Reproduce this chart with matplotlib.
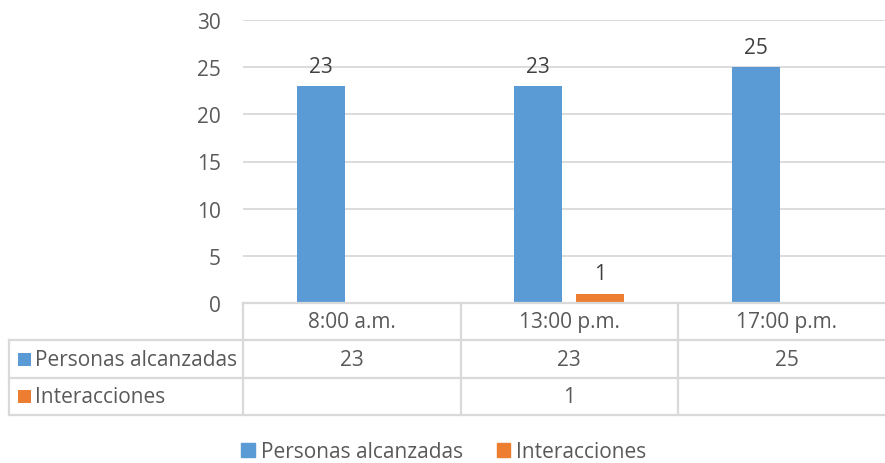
import matplotlib.pyplot as plt
import numpy as np
from matplotlib.patches import Patch, Rectangle

categories = ["8:00 a.m.", "13:00 p.m.", "17:00 p.m."]
series_names = ["Personas alcanzadas", "Interacciones"]
personas = [23, 23, 25]
interacciones = [None, 1, None]
colors = ["#5B9BD5", "#ED7D31"]

plt.rcParams['font.family'] = ['Open Sans', 'DejaVu Sans']
txt = "#595959"
grid = "#D9D9D9"
fs = 15

W, H = 885, 464
fig = plt.figure(figsize=(W / 100, H / 100), dpi=100)

# pixel helpers (top-left origin)
def fx(x):
    return x / W

def fy(y):
    return 1 - y / H

left, right, top, base = 243, 895.5, 21, 304
ax = fig.add_axes([fx(left), fy(base), fx(right - left), (base - top) / H])
x = np.arange(len(categories))
bw, off = 0.222, 0.143

vals_p = np.array(personas, dtype=float)
vals_i = np.array([np.nan if v is None else v for v in interacciones])
ax.bar(x - off, vals_p, bw, color=colors[0], zorder=3)
ax.bar(x + off, np.nan_to_num(vals_i), bw, color=colors[1], zorder=3)
for xi, v in zip(x, vals_p):
    ax.text(xi - off, v + 1.0, f"{v:g}", ha="center", va="bottom", fontsize=fs, color="#404040")
for xi, v in zip(x, vals_i):
    if not np.isnan(v):
        ax.text(xi + off, v + 1.0, f"{v:g}", ha="center", va="bottom", fontsize=fs, color="#404040")

ax.set_xlim(-0.5, 2.5)
ax.set_ylim(0, 30)
ax.set_yticks(range(0, 31, 5))
ax.yaxis.grid(True, color=grid, lw=1.3, zorder=0)
ax.set_xticks([])
for s in ax.spines.values():
    s.set_visible(False)
ax.tick_params(axis="y", length=0, pad=16, labelsize=fs, labelcolor=txt)
ax.patch.set_alpha(0)

# data table
rows = [304, 341, 379, 416]
cols = [left + i * (right - left) / 3 for i in range(4)]
lw = 1.6
fig.add_artist(plt.Line2D([fx(left), fx(right)], [fy(304), fy(304)], color=grid, lw=lw))
for yy in rows[1:]:
    fig.add_artist(plt.Line2D([fx(9), fx(right)], [fy(yy), fy(yy)], color=grid, lw=lw))
fig.add_artist(plt.Line2D([fx(9), fx(9)], [fy(341), fy(416)], color=grid, lw=lw))
for cx in cols[:3]:
    fig.add_artist(plt.Line2D([fx(cx), fx(cx)], [fy(304), fy(416)], color=grid, lw=lw))

for i, c in enumerate(categories):
    cx = (cols[i] + cols[i + 1]) / 2
    fig.text(fx(cx), fy(323), c, ha="center", va="center", fontsize=fs, color=txt)
    fig.text(fx(cx), fy(360.5), f"{personas[i]:g}", ha="center", va="center", fontsize=fs, color=txt)
    if interacciones[i] is not None:
        fig.text(fx(cx), fy(398), f"{interacciones[i]:g}", ha="center", va="center", fontsize=fs, color=txt)

for j, (name, yc) in enumerate(zip(series_names, [360, 397.5])):
    fig.add_artist(Rectangle((fx(18), fy(yc + 6.5)), 13 / W, 13 / H, transform=fig.transFigure,
                             color=colors[j], lw=0))
    fig.text(fx(35), fy(yc + 0.5), name, ha="left", va="center", fontsize=fs, color=txt)

handles = [Patch(color=colors[0], label=series_names[0]), Patch(color=colors[1], label=series_names[1])]
fig.legend(handles=handles, loc="center", bbox_to_anchor=(fx(444), fy(453)), ncol=2, frameon=False,
           handlelength=0.65, handleheight=0.65, handletextpad=0.3, columnspacing=1.6,
           fontsize=fs, labelcolor=txt)

fig.savefig("out.png", dpi=100)
